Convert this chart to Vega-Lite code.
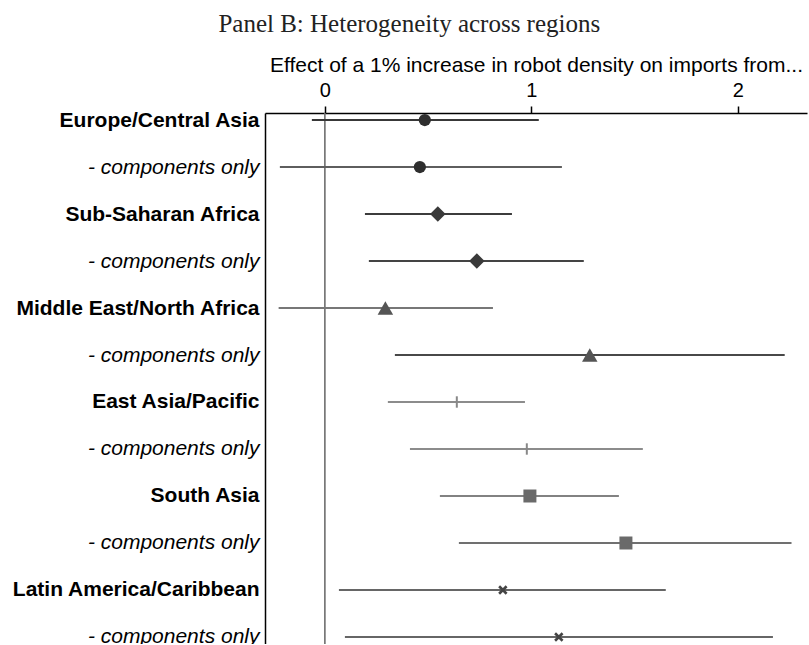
{
  "$schema": "https://vega.github.io/schema/vega-lite/v6.json",
  "autosize": {"type": "none"},
  "padding": {"left": 265, "top": 113, "right": 2, "bottom": 0},
  "width": 542,
  "height": 531,
  "background": "white",
  "title": {
    "text": "Panel B: Heterogeneity across regions",
    "font": "Liberation Serif",
    "fontSize": 25,
    "fontWeight": "normal",
    "color": "#222222",
    "anchor": "middle",
    "frame": "bounds",
    "offset": 17
  },
  "config": {
    "view": {"stroke": null},
    "font": "Liberation Sans"
  },
  "data": {
    "values": [
      {"key": "a|Europe/Central Asia", "region": "Europe/Central Asia", "est": 0.484, "lo": -0.063, "hi": 1.036},
      {"key": "b|- components only", "region": "Europe/Central Asia", "est": 0.46, "lo": -0.218, "hi": 1.148},
      {"key": "c|Sub-Saharan Africa", "region": "Sub-Saharan Africa", "est": 0.547, "lo": 0.194, "hi": 0.906},
      {"key": "d|- components only", "region": "Sub-Saharan Africa", "est": 0.736, "lo": 0.213, "hi": 1.254},
      {"key": "e|Middle East/North Africa", "region": "Middle East/North Africa", "est": 0.293, "lo": -0.224, "hi": 0.814},
      {"key": "f|- components only", "region": "Middle East/North Africa", "est": 1.283, "lo": 0.339, "hi": 2.227},
      {"key": "g|East Asia/Pacific", "region": "East Asia/Pacific", "est": 0.639, "lo": 0.305, "hi": 0.969},
      {"key": "h|- components only", "region": "East Asia/Pacific", "est": 0.978, "lo": 0.412, "hi": 1.54},
      {"key": "i|South Asia", "region": "South Asia", "est": 0.993, "lo": 0.557, "hi": 1.424},
      {"key": "j|- components only", "region": "South Asia", "est": 1.458, "lo": 0.649, "hi": 2.26},
      {"key": "k|Latin America/Caribbean", "region": "Latin America/Caribbean", "est": 0.862, "lo": 0.068, "hi": 1.651},
      {"key": "l|- components only", "region": "Latin America/Caribbean", "est": 1.133, "lo": 0.097, "hi": 2.17}
    ]
  },
  "encoding": {
    "y": {
      "field": "key",
      "type": "nominal",
      "sort": null,
      "scale": {"type": "point", "padding": 0.149},
      "axis": {
        "orient": "left",
        "title": null,
        "ticks": false,
        "domain": true,
        "domainColor": "#000000",
        "domainWidth": 1.5,
        "labelExpr": "split(datum.value,'|')[1]",
        "labelFont": "Liberation Sans",
        "labelFontSize": 21,
        "labelColor": "#000000",
        "labelPadding": 6,
        "labelLimit": 0,
        "labelFontWeight": {"condition": {"test": "indexof(datum.value,'components')<0", "value": "bold"}, "value": "normal"},
        "labelFontStyle": {"condition": {"test": "indexof(datum.value,'components')>=0", "value": "italic"}, "value": "normal"},
        "grid": false
      }
    }
  },
  "layer": [
    {
      "data": {"values": [{"z": 0}]},
      "mark": {"type": "rule", "color": "#6e6e6e", "strokeWidth": 1.6},
      "encoding": {
        "x": {"field": "z", "type": "quantitative"},
        "y": null
      }
    },
    {
      "mark": {"type": "rule", "strokeWidth": 2},
      "encoding": {
        "x": {
          "field": "lo",
          "type": "quantitative",
          "scale": {"domain": [-0.29, 2.335], "nice": false, "zero": false},
          "axis": {
            "orient": "top",
            "values": [0, 1, 2],
            "format": "d",
            "title": "Effect of a 1% increase in robot density on imports from...",
            "titleFont": "Liberation Sans",
            "titleFontSize": 21,
            "titleFontWeight": "normal",
            "titleColor": "#000000",
            "titlePadding": 5,
            "labelFont": "Liberation Sans",
            "labelFontSize": 20,
            "labelColor": "#000000",
            "labelPadding": 6,
            "tickSize": 7,
            "tickColor": "#000000",
            "tickWidth": 1.5,
            "domainColor": "#000000",
            "domainWidth": 1.5,
            "grid": false
          }
        },
        "x2": {"field": "hi"},
        "color": {
          "field": "key",
          "type": "nominal",
          "legend": null,
          "scale": {
            "domain": ["a|Europe/Central Asia", "b|- components only", "c|Sub-Saharan Africa", "d|- components only", "e|Middle East/North Africa", "f|- components only", "g|East Asia/Pacific", "h|- components only", "i|South Asia", "j|- components only", "k|Latin America/Caribbean", "l|- components only"],
            "range": ["#383838", "#5e5e5e", "#3c3c3c", "#444444", "#777777", "#484848", "#8c8c8c", "#8c8c8c", "#828282", "#707070", "#666666", "#666666"]
          }
        }
      }
    },
    {
      "transform": [{"filter": "datum.region === 'Europe/Central Asia'"}],
      "mark": {"type": "point", "shape": "circle", "filled": true, "opacity": 1, "size": 150, "color": "#2e2e2e"},
      "encoding": {"x": {"field": "est", "type": "quantitative"}}
    },
    {
      "transform": [{"filter": "datum.region === 'Sub-Saharan Africa'"}],
      "mark": {"type": "point", "shape": "diamond", "filled": true, "opacity": 1, "size": 240, "color": "#3a3a3a"},
      "encoding": {"x": {"field": "est", "type": "quantitative"}}
    },
    {
      "transform": [{"filter": "datum.region === 'Middle East/North Africa'"}],
      "mark": {"type": "point", "shape": "triangle-up", "filled": true, "opacity": 1, "size": 240, "color": "#555555"},
      "encoding": {"x": {"field": "est", "type": "quantitative"}}
    },
    {
      "transform": [{"filter": "datum.region === 'East Asia/Pacific'"}],
      "mark": {"type": "point", "shape": "M0,-1L0,1", "filled": false, "opacity": 1, "size": 130, "strokeWidth": 2, "color": "#888888"},
      "encoding": {"x": {"field": "est", "type": "quantitative"}}
    },
    {
      "transform": [{"filter": "datum.region === 'South Asia'"}],
      "mark": {"type": "point", "shape": "square", "filled": true, "opacity": 1, "size": 169, "color": "#6a6a6a"},
      "encoding": {"x": {"field": "est", "type": "quantitative"}}
    },
    {
      "transform": [{"filter": "datum.region === 'Latin America/Caribbean'"}],
      "mark": {"type": "point", "shape": "M-1,-1L1,1M-1,1L1,-1", "filled": false, "opacity": 1, "size": 56, "strokeWidth": 2.6, "color": "#444444"},
      "encoding": {"x": {"field": "est", "type": "quantitative"}}
    }
  ]
}
